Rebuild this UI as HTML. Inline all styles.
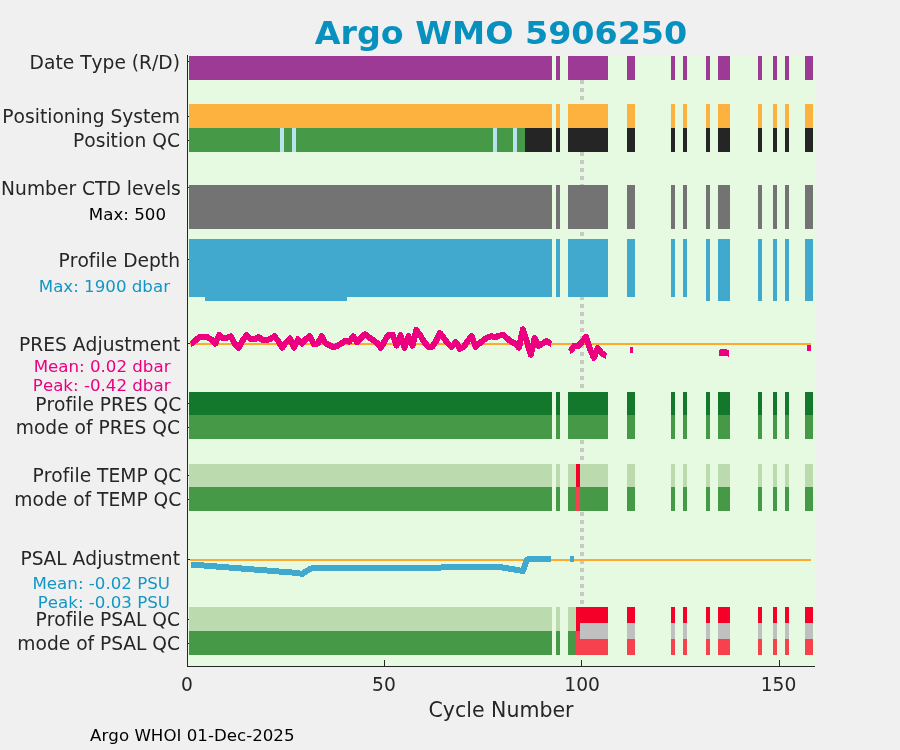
<!DOCTYPE html>
<html lang="en">
<head>
<meta charset="utf-8">
<title>Argo WMO 5906250</title>
<style>
html,body{margin:0;padding:0;background:#f0f0f0;}
body{width:900px;height:750px;overflow:hidden;position:relative;font-family:"DejaVu Sans","Liberation Sans",sans-serif;}
svg{position:absolute;left:0;top:0;display:block;}
svg rect{shape-rendering:crispEdges;}
text{font-family:"DejaVu Sans","Liberation Sans",sans-serif;fill:#262626;font-kerning:none;font-variant-ligatures:none;font-feature-settings:'liga' 0,'kern' 0;}
.yl{font-size:18.67px;text-anchor:end;}
.sub{font-size:16.67px;text-anchor:end;}
.xt{font-size:18.67px;text-anchor:middle;}
.xl{font-size:20.5px;text-anchor:middle;}
.foot{font-size:16.67px;text-anchor:start;fill:#000;}
.title{font-size:33.3px;font-weight:bold;text-anchor:middle;fill:#0891bf;}
</style>
</head>
<body>
<svg width="900" height="750" viewBox="0 0 900 750">
<rect x="188" y="56" width="627" height="610" fill="#e6f9e1"/>
<rect x="580" y="80" width="4" height="4" fill="#c8c8c8"/>
<rect x="580" y="88" width="4" height="4" fill="#c8c8c8"/>
<rect x="580" y="96" width="4" height="4" fill="#c8c8c8"/>
<rect x="580" y="104" width="4" height="4" fill="#c8c8c8"/>
<rect x="580" y="112" width="4" height="4" fill="#c8c8c8"/>
<rect x="580" y="120" width="4" height="4" fill="#c8c8c8"/>
<rect x="580" y="128" width="4" height="4" fill="#c8c8c8"/>
<rect x="580" y="136" width="4" height="4" fill="#c8c8c8"/>
<rect x="580" y="144" width="4" height="4" fill="#c8c8c8"/>
<rect x="580" y="152" width="4" height="4" fill="#c8c8c8"/>
<rect x="580" y="160" width="4" height="4" fill="#c8c8c8"/>
<rect x="580" y="168" width="4" height="4" fill="#c8c8c8"/>
<rect x="580" y="176" width="4" height="4" fill="#c8c8c8"/>
<rect x="580" y="184" width="4" height="4" fill="#c8c8c8"/>
<rect x="580" y="192" width="4" height="4" fill="#c8c8c8"/>
<rect x="580" y="200" width="4" height="4" fill="#c8c8c8"/>
<rect x="580" y="208" width="4" height="4" fill="#c8c8c8"/>
<rect x="580" y="216" width="4" height="4" fill="#c8c8c8"/>
<rect x="580" y="224" width="4" height="4" fill="#c8c8c8"/>
<rect x="580" y="232" width="4" height="4" fill="#c8c8c8"/>
<rect x="580" y="240" width="4" height="4" fill="#c8c8c8"/>
<rect x="580" y="248" width="4" height="4" fill="#c8c8c8"/>
<rect x="580" y="256" width="4" height="4" fill="#c8c8c8"/>
<rect x="580" y="264" width="4" height="4" fill="#c8c8c8"/>
<rect x="580" y="272" width="4" height="4" fill="#c8c8c8"/>
<rect x="580" y="280" width="4" height="4" fill="#c8c8c8"/>
<rect x="580" y="288" width="4" height="4" fill="#c8c8c8"/>
<rect x="580" y="296" width="4" height="4" fill="#c8c8c8"/>
<rect x="580" y="304" width="4" height="4" fill="#c8c8c8"/>
<rect x="580" y="312" width="4" height="4" fill="#c8c8c8"/>
<rect x="580" y="320" width="4" height="4" fill="#c8c8c8"/>
<rect x="580" y="328" width="4" height="4" fill="#c8c8c8"/>
<rect x="580" y="336" width="4" height="4" fill="#c8c8c8"/>
<rect x="580" y="344" width="4" height="4" fill="#c8c8c8"/>
<rect x="580" y="352" width="4" height="4" fill="#c8c8c8"/>
<rect x="580" y="360" width="4" height="4" fill="#c8c8c8"/>
<rect x="580" y="368" width="4" height="4" fill="#c8c8c8"/>
<rect x="580" y="376" width="4" height="4" fill="#c8c8c8"/>
<rect x="580" y="384" width="4" height="4" fill="#c8c8c8"/>
<rect x="580" y="392" width="4" height="4" fill="#c8c8c8"/>
<rect x="580" y="400" width="4" height="4" fill="#c8c8c8"/>
<rect x="580" y="408" width="4" height="4" fill="#c8c8c8"/>
<rect x="580" y="416" width="4" height="4" fill="#c8c8c8"/>
<rect x="580" y="424" width="4" height="4" fill="#c8c8c8"/>
<rect x="580" y="432" width="4" height="4" fill="#c8c8c8"/>
<rect x="580" y="440" width="4" height="4" fill="#c8c8c8"/>
<rect x="580" y="448" width="4" height="4" fill="#c8c8c8"/>
<rect x="580" y="456" width="4" height="4" fill="#c8c8c8"/>
<rect x="580" y="464" width="4" height="4" fill="#c8c8c8"/>
<rect x="580" y="472" width="4" height="4" fill="#c8c8c8"/>
<rect x="580" y="480" width="4" height="4" fill="#c8c8c8"/>
<rect x="580" y="488" width="4" height="4" fill="#c8c8c8"/>
<rect x="580" y="496" width="4" height="4" fill="#c8c8c8"/>
<rect x="580" y="504" width="4" height="4" fill="#c8c8c8"/>
<rect x="580" y="512" width="4" height="4" fill="#c8c8c8"/>
<rect x="580" y="520" width="4" height="4" fill="#c8c8c8"/>
<rect x="580" y="528" width="4" height="4" fill="#c8c8c8"/>
<rect x="580" y="536" width="4" height="4" fill="#c8c8c8"/>
<rect x="580" y="544" width="4" height="4" fill="#c8c8c8"/>
<rect x="580" y="552" width="4" height="4" fill="#c8c8c8"/>
<rect x="580" y="560" width="4" height="4" fill="#c8c8c8"/>
<rect x="580" y="568" width="4" height="4" fill="#c8c8c8"/>
<rect x="580" y="576" width="4" height="4" fill="#c8c8c8"/>
<rect x="580" y="584" width="4" height="4" fill="#c8c8c8"/>
<rect x="580" y="592" width="4" height="4" fill="#c8c8c8"/>
<rect x="580" y="600" width="4" height="4" fill="#c8c8c8"/>
<rect x="189" y="56" width="363" height="24" fill="#9c3a96"/>
<rect x="556" y="56" width="4" height="24" fill="#9c3a96"/>
<rect x="568" y="56" width="40" height="24" fill="#9c3a96"/>
<rect x="627" y="56" width="8" height="24" fill="#9c3a96"/>
<rect x="671" y="56" width="4" height="24" fill="#9c3a96"/>
<rect x="683" y="56" width="4" height="24" fill="#9c3a96"/>
<rect x="706" y="56" width="4" height="24" fill="#9c3a96"/>
<rect x="718" y="56" width="12" height="24" fill="#9c3a96"/>
<rect x="758" y="56" width="4" height="24" fill="#9c3a96"/>
<rect x="773" y="56" width="4" height="24" fill="#9c3a96"/>
<rect x="785" y="56" width="4" height="24" fill="#9c3a96"/>
<rect x="805" y="56" width="8" height="24" fill="#9c3a96"/>
<rect x="189" y="104" width="363" height="24" fill="#fdb13f"/>
<rect x="556" y="104" width="4" height="24" fill="#fdb13f"/>
<rect x="568" y="104" width="40" height="24" fill="#fdb13f"/>
<rect x="627" y="104" width="8" height="24" fill="#fdb13f"/>
<rect x="671" y="104" width="4" height="24" fill="#fdb13f"/>
<rect x="683" y="104" width="4" height="24" fill="#fdb13f"/>
<rect x="706" y="104" width="4" height="24" fill="#fdb13f"/>
<rect x="718" y="104" width="12" height="24" fill="#fdb13f"/>
<rect x="758" y="104" width="4" height="24" fill="#fdb13f"/>
<rect x="773" y="104" width="4" height="24" fill="#fdb13f"/>
<rect x="785" y="104" width="4" height="24" fill="#fdb13f"/>
<rect x="805" y="104" width="8" height="24" fill="#fdb13f"/>
<rect x="189" y="128" width="336" height="24" fill="#469a47"/>
<rect x="525" y="128" width="27" height="24" fill="#252525"/>
<rect x="556" y="128" width="4" height="24" fill="#252525"/>
<rect x="568" y="128" width="40" height="24" fill="#252525"/>
<rect x="627" y="128" width="8" height="24" fill="#252525"/>
<rect x="671" y="128" width="4" height="24" fill="#252525"/>
<rect x="683" y="128" width="4" height="24" fill="#252525"/>
<rect x="706" y="128" width="4" height="24" fill="#252525"/>
<rect x="718" y="128" width="12" height="24" fill="#252525"/>
<rect x="758" y="128" width="4" height="24" fill="#252525"/>
<rect x="773" y="128" width="4" height="24" fill="#252525"/>
<rect x="785" y="128" width="4" height="24" fill="#252525"/>
<rect x="805" y="128" width="8" height="24" fill="#252525"/>
<rect x="280" y="128" width="4" height="24" fill="#b9e1ef"/>
<rect x="292" y="128" width="4" height="24" fill="#b9e1ef"/>
<rect x="493" y="128" width="4" height="24" fill="#b9e1ef"/>
<rect x="513" y="128" width="4" height="24" fill="#b9e1ef"/>
<rect x="189" y="185" width="363" height="44" fill="#737373"/>
<rect x="556" y="185" width="4" height="44" fill="#737373"/>
<rect x="568" y="185" width="40" height="44" fill="#737373"/>
<rect x="627" y="185" width="8" height="44" fill="#737373"/>
<rect x="671" y="185" width="4" height="44" fill="#737373"/>
<rect x="683" y="185" width="4" height="44" fill="#737373"/>
<rect x="706" y="185" width="4" height="44" fill="#737373"/>
<rect x="718" y="185" width="12" height="44" fill="#737373"/>
<rect x="758" y="185" width="4" height="44" fill="#737373"/>
<rect x="773" y="185" width="4" height="44" fill="#737373"/>
<rect x="785" y="185" width="4" height="44" fill="#737373"/>
<rect x="805" y="185" width="8" height="44" fill="#737373"/>
<rect x="189" y="239" width="363" height="58" fill="#41a9ce"/>
<rect x="556" y="239" width="4" height="58" fill="#41a9ce"/>
<rect x="568" y="239" width="40" height="58" fill="#41a9ce"/>
<rect x="627" y="239" width="8" height="58" fill="#41a9ce"/>
<rect x="671" y="239" width="4" height="58" fill="#41a9ce"/>
<rect x="683" y="239" width="4" height="58" fill="#41a9ce"/>
<rect x="706" y="239" width="4" height="58" fill="#41a9ce"/>
<rect x="718" y="239" width="12" height="58" fill="#41a9ce"/>
<rect x="758" y="239" width="4" height="58" fill="#41a9ce"/>
<rect x="773" y="239" width="4" height="58" fill="#41a9ce"/>
<rect x="785" y="239" width="4" height="58" fill="#41a9ce"/>
<rect x="805" y="239" width="8" height="58" fill="#41a9ce"/>
<rect x="205" y="297" width="142" height="4" fill="#41a9ce"/>
<rect x="706" y="297" width="4" height="4" fill="#41a9ce"/>
<rect x="718" y="297" width="12" height="4" fill="#41a9ce"/>
<rect x="758" y="297" width="4" height="4" fill="#41a9ce"/>
<rect x="773" y="297" width="4" height="4" fill="#41a9ce"/>
<rect x="785" y="297" width="4" height="4" fill="#41a9ce"/>
<rect x="805" y="297" width="8" height="4" fill="#41a9ce"/>
<rect x="189" y="392" width="363" height="23" fill="#13782b"/>
<rect x="556" y="392" width="4" height="23" fill="#13782b"/>
<rect x="568" y="392" width="40" height="23" fill="#13782b"/>
<rect x="627" y="392" width="8" height="23" fill="#13782b"/>
<rect x="671" y="392" width="4" height="23" fill="#13782b"/>
<rect x="683" y="392" width="4" height="23" fill="#13782b"/>
<rect x="706" y="392" width="4" height="23" fill="#13782b"/>
<rect x="718" y="392" width="12" height="23" fill="#13782b"/>
<rect x="758" y="392" width="4" height="23" fill="#13782b"/>
<rect x="773" y="392" width="4" height="23" fill="#13782b"/>
<rect x="785" y="392" width="4" height="23" fill="#13782b"/>
<rect x="805" y="392" width="8" height="23" fill="#13782b"/>
<rect x="189" y="415" width="363" height="24" fill="#469a47"/>
<rect x="556" y="415" width="4" height="24" fill="#469a47"/>
<rect x="568" y="415" width="40" height="24" fill="#469a47"/>
<rect x="627" y="415" width="8" height="24" fill="#469a47"/>
<rect x="671" y="415" width="4" height="24" fill="#469a47"/>
<rect x="683" y="415" width="4" height="24" fill="#469a47"/>
<rect x="706" y="415" width="4" height="24" fill="#469a47"/>
<rect x="718" y="415" width="12" height="24" fill="#469a47"/>
<rect x="758" y="415" width="4" height="24" fill="#469a47"/>
<rect x="773" y="415" width="4" height="24" fill="#469a47"/>
<rect x="785" y="415" width="4" height="24" fill="#469a47"/>
<rect x="805" y="415" width="8" height="24" fill="#469a47"/>
<rect x="189" y="464" width="363" height="23" fill="#bbdbae"/>
<rect x="556" y="464" width="4" height="23" fill="#bbdbae"/>
<rect x="568" y="464" width="40" height="23" fill="#bbdbae"/>
<rect x="627" y="464" width="8" height="23" fill="#bbdbae"/>
<rect x="671" y="464" width="4" height="23" fill="#bbdbae"/>
<rect x="683" y="464" width="4" height="23" fill="#bbdbae"/>
<rect x="706" y="464" width="4" height="23" fill="#bbdbae"/>
<rect x="718" y="464" width="12" height="23" fill="#bbdbae"/>
<rect x="758" y="464" width="4" height="23" fill="#bbdbae"/>
<rect x="773" y="464" width="4" height="23" fill="#bbdbae"/>
<rect x="785" y="464" width="4" height="23" fill="#bbdbae"/>
<rect x="805" y="464" width="8" height="23" fill="#bbdbae"/>
<rect x="189" y="487" width="363" height="24" fill="#469a47"/>
<rect x="556" y="487" width="4" height="24" fill="#469a47"/>
<rect x="568" y="487" width="40" height="24" fill="#469a47"/>
<rect x="627" y="487" width="8" height="24" fill="#469a47"/>
<rect x="671" y="487" width="4" height="24" fill="#469a47"/>
<rect x="683" y="487" width="4" height="24" fill="#469a47"/>
<rect x="706" y="487" width="4" height="24" fill="#469a47"/>
<rect x="718" y="487" width="12" height="24" fill="#469a47"/>
<rect x="758" y="487" width="4" height="24" fill="#469a47"/>
<rect x="773" y="487" width="4" height="24" fill="#469a47"/>
<rect x="785" y="487" width="4" height="24" fill="#469a47"/>
<rect x="805" y="487" width="8" height="24" fill="#469a47"/>
<rect x="576" y="464" width="4" height="23" fill="#f50028"/>
<rect x="576" y="487" width="4" height="24" fill="#f8414f"/>
<rect x="189" y="607" width="363" height="24" fill="#bbdbae"/>
<rect x="556" y="607" width="4" height="24" fill="#bbdbae"/>
<rect x="568" y="607" width="8" height="24" fill="#bbdbae"/>
<rect x="189" y="631" width="363" height="24" fill="#469a47"/>
<rect x="556" y="631" width="4" height="24" fill="#469a47"/>
<rect x="568" y="631" width="8" height="24" fill="#469a47"/>
<rect x="576" y="607" width="4" height="24" fill="#f50028"/>
<rect x="576" y="631" width="4" height="24" fill="#f8414f"/>
<rect x="580" y="607" width="28" height="16" fill="#f50028"/>
<rect x="627" y="607" width="8" height="16" fill="#f50028"/>
<rect x="671" y="607" width="4" height="16" fill="#f50028"/>
<rect x="683" y="607" width="4" height="16" fill="#f50028"/>
<rect x="706" y="607" width="4" height="16" fill="#f50028"/>
<rect x="718" y="607" width="12" height="16" fill="#f50028"/>
<rect x="758" y="607" width="4" height="16" fill="#f50028"/>
<rect x="773" y="607" width="4" height="16" fill="#f50028"/>
<rect x="785" y="607" width="4" height="16" fill="#f50028"/>
<rect x="805" y="607" width="8" height="16" fill="#f50028"/>
<rect x="580" y="623" width="28" height="16" fill="#c0c0c0"/>
<rect x="627" y="623" width="8" height="16" fill="#c0c0c0"/>
<rect x="671" y="623" width="4" height="16" fill="#c0c0c0"/>
<rect x="683" y="623" width="4" height="16" fill="#c0c0c0"/>
<rect x="706" y="623" width="4" height="16" fill="#c0c0c0"/>
<rect x="718" y="623" width="12" height="16" fill="#c0c0c0"/>
<rect x="758" y="623" width="4" height="16" fill="#c0c0c0"/>
<rect x="773" y="623" width="4" height="16" fill="#c0c0c0"/>
<rect x="785" y="623" width="4" height="16" fill="#c0c0c0"/>
<rect x="805" y="623" width="8" height="16" fill="#c0c0c0"/>
<rect x="580" y="639" width="28" height="16" fill="#f8414f"/>
<rect x="627" y="639" width="8" height="16" fill="#f8414f"/>
<rect x="671" y="639" width="4" height="16" fill="#f8414f"/>
<rect x="683" y="639" width="4" height="16" fill="#f8414f"/>
<rect x="706" y="639" width="4" height="16" fill="#f8414f"/>
<rect x="718" y="639" width="12" height="16" fill="#f8414f"/>
<rect x="758" y="639" width="4" height="16" fill="#f8414f"/>
<rect x="773" y="639" width="4" height="16" fill="#f8414f"/>
<rect x="785" y="639" width="4" height="16" fill="#f8414f"/>
<rect x="805" y="639" width="8" height="16" fill="#f8414f"/>
<rect x="190" y="343" width="621" height="2" fill="#ffa92e"/>
<rect x="190" y="559" width="621" height="2" fill="#ffa92e"/>
<g shape-rendering="crispEdges">
<path d="M191.4,340.7 195.4,337.5 195.4,343.5 191.4,346.7Z M195.4,337.5 199.3,334.2 199.3,340.2 195.4,343.5Z M199.3,334.2 203.3,333.7 203.3,339.7 199.3,340.2Z M203.3,333.7 207.2,334.2 207.2,340.2 203.3,339.7Z M207.2,334.2 211.2,336.4 211.2,342.4 207.2,340.2Z M219.1,332.1 223.0,335.3 223.0,341.3 219.1,338.1Z M223.0,335.3 227.0,334.8 227.0,340.8 223.0,341.3Z M227.0,334.8 230.9,333.4 230.9,339.4 227.0,340.8Z M234.9,340.9 238.8,344.8 238.8,350.8 234.9,346.9Z M250.6,336.4 254.6,336.4 254.6,342.4 250.6,342.4Z M254.6,336.4 258.5,334.0 258.5,340.0 254.6,342.4Z M258.5,334.0 262.5,337.0 262.5,343.0 258.5,340.0Z M262.5,337.0 266.4,337.0 266.4,343.0 262.5,343.0Z M266.4,337.0 270.4,336.0 270.4,342.0 266.4,343.0Z M270.4,336.0 274.3,333.2 274.3,339.2 270.4,342.0Z M286.1,339.2 290.1,335.4 290.1,341.4 286.1,345.2Z M305.9,336.0 309.8,333.2 309.8,339.2 305.9,342.0Z M313.8,341.1 317.7,340.6 317.7,346.6 313.8,347.1Z M325.6,340.3 329.6,342.3 329.6,348.3 325.6,346.3Z M329.6,342.3 333.5,344.4 333.5,350.4 329.6,348.3Z M333.5,344.4 337.4,342.8 337.4,348.8 333.5,350.4Z M337.4,342.8 341.4,340.5 341.4,346.5 337.4,348.8Z M341.4,340.5 345.3,337.5 345.3,343.5 341.4,346.5Z M345.3,337.5 349.3,338.7 349.3,344.7 345.3,343.5Z M361.1,334.8 365.1,331.2 365.1,337.2 361.1,340.8Z M365.1,331.2 369.0,334.2 369.0,340.2 365.1,337.2Z M369.0,334.2 373.0,337.0 373.0,343.0 369.0,340.2Z M373.0,337.0 376.9,340.0 376.9,346.0 373.0,343.0Z M388.7,331.5 392.7,331.8 392.7,337.8 388.7,337.5Z M428.2,343.7 432.2,343.7 432.2,349.7 428.2,349.7Z M447.9,340.5 451.9,343.9 451.9,349.9 447.9,346.5Z M459.8,345.9 463.7,343.9 463.7,349.9 459.8,351.9Z M475.6,343.7 479.5,340.3 479.5,346.3 475.6,349.7Z M479.5,340.3 483.4,337.0 483.4,343.0 479.5,346.3Z M483.4,337.0 487.4,334.5 487.4,340.5 483.4,343.0Z M487.4,334.5 491.3,333.2 491.3,339.2 487.4,340.5Z M491.3,333.2 495.3,334.3 495.3,340.3 491.3,339.2Z M495.3,334.3 499.2,332.6 499.2,338.6 495.3,340.3Z M499.2,332.6 503.2,332.1 503.2,338.1 499.2,338.6Z M503.2,332.1 507.1,335.3 507.1,341.3 503.2,338.1Z M507.1,335.3 511.1,338.7 511.1,344.7 507.1,341.3Z M511.1,338.7 515.0,340.3 515.0,346.3 511.1,344.7Z M538.7,342.8 542.6,340.5 542.6,346.5 538.7,348.8Z M542.6,340.5 546.6,337.9 546.6,343.9 542.6,346.5Z M546.6,337.9 550.5,340.9 550.5,346.9 546.6,343.9Z" fill="#ec0080"/>
<polyline points="191.4,343.7 195.4,340.5 199.3,337.2 203.3,336.7 207.2,337.2 211.2,339.4 215.1,343.8 219.1,335.1 223.0,338.3 227.0,337.8 230.9,336.4 234.9,343.9 238.8,347.8 242.7,340.5 246.7,335.1 250.6,339.4 254.6,339.4 258.5,337.0 262.5,340.0 266.4,340.0 270.4,339.0 274.3,336.2 278.3,341.0 282.2,347.8 286.1,342.2 290.1,338.4 294.0,347.8 298.0,339.2 301.9,343.6 305.9,339.0 309.8,336.2 313.8,344.1 317.7,343.6 321.7,336.2 325.6,343.3 329.6,345.3 333.5,347.4 337.4,345.8 341.4,343.5 345.3,340.5 349.3,341.7 353.2,336.2 357.2,342.4 361.1,337.8 365.1,334.2 369.0,337.2 373.0,340.0 376.9,343.0 380.9,347.8 384.8,340.5 388.7,334.5 392.7,334.8 396.6,345.6 400.6,335.3 404.5,347.8 408.5,336.2 412.4,345.6 416.4,330.0 420.3,335.5 424.3,342.2 428.2,346.7 432.2,346.7 436.1,341.0 440.0,333.1 444.0,338.3 447.9,343.5 451.9,346.9 455.8,342.0 459.8,348.9 463.7,346.9 467.7,341.0 471.6,336.2 475.6,346.7 479.5,343.3 483.4,340.0 487.4,337.5 491.3,336.2 495.3,337.3 499.2,335.6 503.2,335.1 507.1,338.3 511.1,341.7 515.0,343.3 519.0,347.8 522.9,329.2 526.9,342.0 530.8,354.7 534.7,338.1 538.7,345.8 542.6,343.5 546.6,340.9 550.5,343.9" fill="none" stroke="#ec0080" stroke-width="6" stroke-linejoin="round"/>
<path d="M570.3,348.3 574.2,342.9 574.2,348.9 570.3,354.3Z M574.2,342.9 578.2,342.9 578.2,348.9 574.2,348.9Z M601.8,350.3 605.8,352.8 605.8,358.8 601.8,356.3Z" fill="#ec0080"/>
<polyline points="570.3,351.3 574.2,345.9 578.2,345.9 582.1,341.7 586.0,337.0 590.0,349.4 593.9,357.8 597.9,348.1 601.8,353.3 605.8,355.8" fill="none" stroke="#ec0080" stroke-width="6" stroke-linejoin="round"/>
<path d="M629.5,347.0 633.4,347.0 633.4,353.0 629.5,353.0Z" fill="#ec0080"/>
<polyline points="629.5,350.0 633.4,350.0" fill="none" stroke="#ec0080" stroke-width="6" stroke-linejoin="round"/>
<path d="M719.4,349.6 724.2,349.0 724.2,355.8 719.4,356.4Z M724.2,349.0 728.9,349.9 728.9,356.7 724.2,355.8Z" fill="#ec0080"/>
<polyline points="719.4,353.0 724.2,352.4 728.9,353.3" fill="none" stroke="#ec0080" stroke-width="6.8" stroke-linejoin="round"/>
<path d="M807.0,345.0 811.0,345.0 811.0,351.0 807.0,351.0Z" fill="#ec0080"/>
<polyline points="807.0,348.0 811.0,348.0" fill="none" stroke="#ec0080" stroke-width="6" stroke-linejoin="round"/>
<path d="M191.4,561.5 298.0,570.0 298.0,576.0 191.4,567.5Z M298.0,570.0 301.9,571.0 301.9,577.0 298.0,576.0Z M301.9,571.0 305.9,568.5 305.9,574.5 301.9,577.0Z M305.9,568.5 309.8,566.0 309.8,572.0 305.9,574.5Z M309.8,566.0 313.8,565.0 313.8,571.0 309.8,572.0Z M313.8,565.0 416.4,565.0 416.4,571.0 313.8,571.0Z M416.4,565.0 455.8,564.2 455.8,570.2 416.4,571.0Z M455.8,564.2 495.3,564.0 495.3,570.0 455.8,570.2Z M495.3,564.0 499.2,564.0 499.2,570.0 495.3,570.0Z M499.2,564.0 507.1,565.3 507.1,571.3 499.2,570.0Z M507.1,565.3 519.0,567.3 519.0,573.3 507.1,571.3Z M519.0,567.3 522.9,568.0 522.9,574.0 519.0,573.3Z M526.9,556.4 550.5,556.4 550.5,562.4 526.9,562.4Z" fill="#41a9ce"/>
<polyline points="191.4,564.5 298.0,573.0 301.9,574.0 305.9,571.5 309.8,569.0 313.8,568.0 416.4,568.0 455.8,567.2 495.3,567.0 499.2,567.0 507.1,568.3 519.0,570.3 522.9,571.0 526.9,559.4 550.5,559.4" fill="none" stroke="#41a9ce" stroke-width="6" stroke-linejoin="round"/>
<path d="M570.3,556.0 574.2,556.0 574.2,562.0 570.3,562.0Z" fill="#41a9ce"/>
<polyline points="570.3,559.0 574.2,559.0" fill="none" stroke="#41a9ce" stroke-width="6" stroke-linejoin="round"/>
</g>
<rect x="188" y="61" width="1" height="1" fill="#262626"/>
<rect x="188" y="116" width="1" height="1" fill="#262626"/>
<rect x="188" y="140" width="1" height="1" fill="#262626"/>
<rect x="188" y="187" width="1" height="1" fill="#262626"/>
<rect x="188" y="259" width="1" height="1" fill="#262626"/>
<rect x="188" y="343" width="2" height="1" fill="#262626"/>
<rect x="188" y="403" width="1" height="1" fill="#262626"/>
<rect x="188" y="427" width="1" height="1" fill="#262626"/>
<rect x="188" y="475" width="1" height="1" fill="#262626"/>
<rect x="188" y="499" width="1" height="1" fill="#262626"/>
<rect x="188" y="559" width="2" height="1" fill="#262626"/>
<rect x="188" y="619" width="1" height="1" fill="#262626"/>
<rect x="188" y="643" width="1" height="1" fill="#262626"/>
<rect x="187" y="55" width="1" height="612" fill="#262626"/>
<rect x="187" y="666" width="628" height="1" fill="#262626"/>
<rect x="187" y="660" width="1" height="6" fill="#262626"/>
<rect x="384" y="660" width="1" height="6" fill="#262626"/>
<rect x="581" y="660" width="1" height="6" fill="#262626"/>
<rect x="779" y="660" width="1" height="6" fill="#262626"/>
<text class="yl" x="180" y="69.0">Date Type (R/D)</text>
<text class="yl" x="180" y="122.8">Positioning System</text>
<text class="yl" x="180" y="146.8">Position QC</text>
<text class="yl" x="180.8" y="195.4">Number CTD levels</text>
<text class="yl" x="180" y="267.0">Profile Depth</text>
<text class="yl" x="180.3" y="350.6">PRES Adjustment</text>
<text class="yl" x="181.3" y="410.6">Profile PRES QC</text>
<text class="yl" x="180" y="433.9">mode of PRES QC</text>
<text class="yl" x="181.3" y="481.7">Profile TEMP QC</text>
<text class="yl" x="181.3" y="506.2">mode of TEMP QC</text>
<text class="yl" x="180" y="565.4">PSAL Adjustment</text>
<text class="yl" x="180" y="625.6">Profile PSAL QC</text>
<text class="yl" x="180" y="650.1">mode of PSAL QC</text>
<text class="sub" x="166" y="220.0" style="fill:#000">Max: 500</text>
<text class="sub" x="170" y="291.8" style="fill:#1296c4">Max: 1900 dbar</text>
<text class="sub" x="170.5" y="372.3" style="fill:#ec0080">Mean: 0.02 dbar</text>
<text class="sub" x="170.5" y="391.2" style="fill:#ec0080">Peak: -0.42 dbar</text>
<text class="sub" x="170" y="589.1" style="fill:#1296c4">Mean: -0.02 PSU</text>
<text class="sub" x="170" y="607.9" style="fill:#1296c4">Peak: -0.03 PSU</text>
<text class="xt" x="187.0" y="691.4">0</text>
<text class="xt" x="383.9" y="691.4">50</text>
<text class="xt" x="582.1" y="691.4">100</text>
<text class="xt" x="778.5" y="691.4">150</text>
<text class="xl" x="501" y="716.5">Cycle Number</text>
<text class="foot" x="90.1" y="741">Argo WHOI 01-Dec-2025</text>
<text class="title" x="501" y="44" transform="translate(0 44) scale(1 0.96) translate(0 -44)">Argo WMO 5906250</text>
</svg>
</body>
</html>
